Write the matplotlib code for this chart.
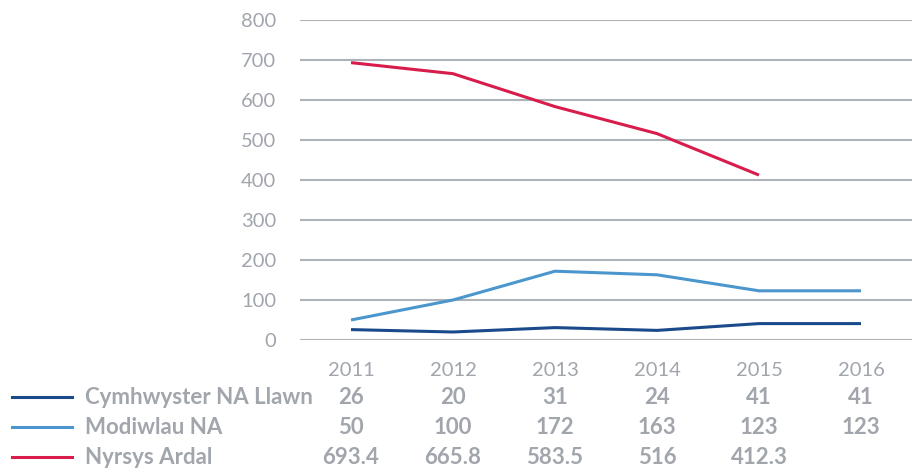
import matplotlib
matplotlib.use("Agg")
import matplotlib.pyplot as plt
from matplotlib.transforms import blended_transform_factory

years = ["2011", "2012", "2013", "2014", "2015", "2016"]
series_names = ["Cymhwyster NA Llawn", "Modiwlau NA", "Nyrsys Ardal"]
cymhwyster = [26, 20, 31, 24, 41, 41]
modiwlau = [50, 100, 172, 163, 123, 123]
nyrsys = [693.4, 665.8, 583.5, 516, 412.3, None]
table_text = [
    ["26", "20", "31", "24", "41", "41"],
    ["50", "100", "172", "163", "123", "123"],
    ["693.4", "665.8", "583.5", "516", "412.3", ""],
]
yticks = [0, 100, 200, 300, 400, 500, 600, 700, 800]

colors = ["#1b4a8a", "#4b96cd", "#d81c4c"]
gray_text = "#a1a5ac"
grid_color = "#aeb2b9"

plt.rcParams['font.family'] = ['Lato', 'DejaVu Sans']

fig = plt.figure(figsize=(9.17, 4.68), dpi=100)
ax = fig.add_axes([300/917, 1 - 340/468, 612/917, 320/468])

x = list(range(len(years)))
series = [cymhwyster, modiwlau, nyrsys]
for vals, c in zip(series, colors):
    xs = [xi for xi, v in zip(x, vals) if v is not None]
    vs = [v for v in vals if v is not None]
    ax.plot(xs, vs, color=c, lw=2.2, solid_capstyle='butt', zorder=3)

ax.set_xlim(-0.5, len(years) - 0.5)
ax.set_ylim(0, 800)
ax.set_yticks(yticks)
ax.set_yticklabels([str(t) for t in yticks])
ax.set_xticks(x)
ax.set_xticklabels(years)
for t in yticks:
    ax.axhline(t, color=grid_color, lw=1.5, zorder=1)
for s in ax.spines.values():
    s.set_visible(False)
ax.tick_params(axis='both', length=0, colors=gray_text, labelsize=14.5)
ax.tick_params(axis='y', pad=17)
ax.tick_params(axis='x', pad=16)
for lbl in ax.get_yticklabels():
    lbl.set_horizontalalignment('right')

# table below
trans = blended_transform_factory(ax.transData, fig.transFigure)
row_y = [397, 427, 457]
for i, (name, c) in enumerate(zip(series_names, colors)):
    yf = 1 - row_y[i] / 468
    fig.add_artist(plt.Line2D([12/917, 72/917], [yf, yf], color=c, lw=2.2))
    fig.text(85/917, yf, name, ha='left', va='center', fontsize=16,
             fontweight='bold', color=gray_text)
    for j, txt in enumerate(table_text[i]):
        ax.text(j, yf, txt, transform=trans, ha='center', va='center',
                fontsize=16, fontweight='bold', color=gray_text, clip_on=False)

fig.savefig("out.png", dpi=100)
